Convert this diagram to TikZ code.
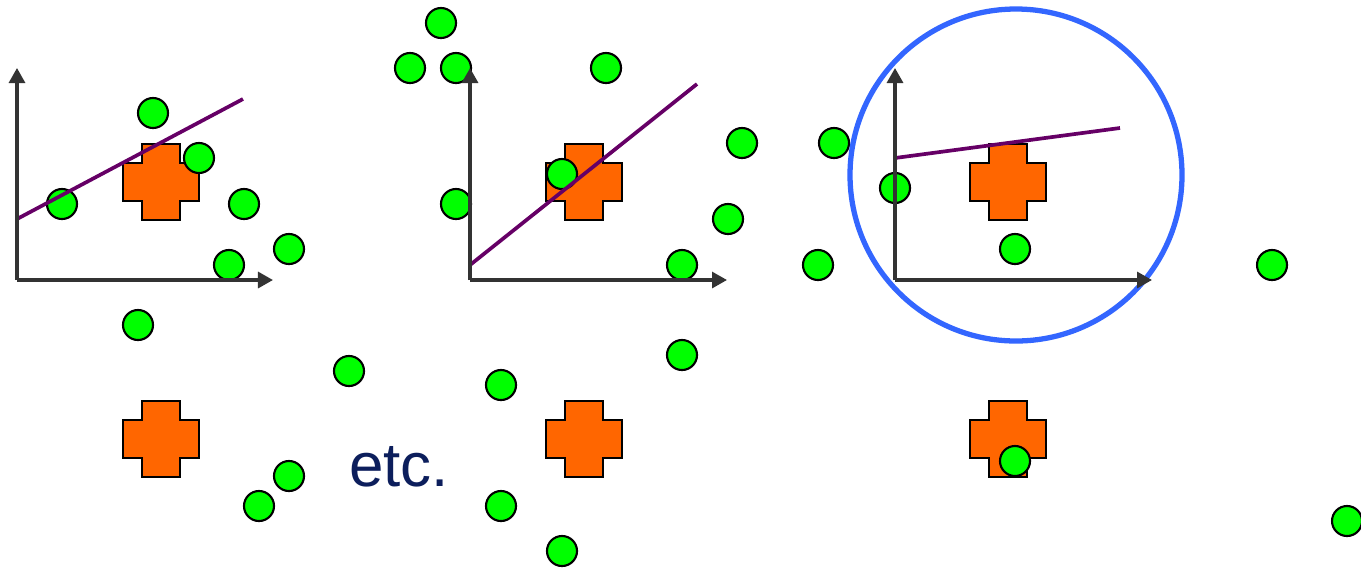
\documentclass[tikz,border=0pt]{standalone}
\usepackage{fontspec}
\setmainfont{Liberation Sans}
\usetikzlibrary{arrows.meta}
\definecolor{plusorange}{RGB}{255,102,0}
\definecolor{dotgreen}{RGB}{0,255,0}
\definecolor{fitpurple}{RGB}{102,0,102}
\definecolor{axisgray}{RGB}{51,51,51}
\definecolor{ringblue}{RGB}{51,102,255}
\definecolor{textnavy}{RGB}{12,30,92}
\tikzset{
  dot/.style={circle, draw=black, line width=0.6pt, fill=dotgreen, minimum size=0.3cm, inner sep=0pt},
  axis/.style={draw=axisgray, line width=0.9pt, -{Triangle[length=0.15cm, width=0.16cm]}},
  fit/.style={draw=fitpurple, line width=1.05pt},
  plusmark/.pic={
    \draw[fill=plusorange, line width=0.6pt]
      (-19,-38) -- (19,-38) -- (19,-19) -- (38,-19) -- (38,19) -- (19,19)
      -- (19,38) -- (-19,38) -- (-19,19) -- (-38,19) -- (-38,-19) -- (-19,-19) -- cycle;
  }
}
\begin{document}
\begin{tikzpicture}[x=0.01cm, y=-0.01cm]
\useasboundingbox (0,0) rectangle (1361,569);
% crosses
\path (161,182) pic {plusmark};
\path (584,182) pic {plusmark};
\path (1008,182) pic {plusmark};
\path (161,439) pic {plusmark};
\path (584,439) pic {plusmark};
\path (1008,439) pic {plusmark};
% green points
\foreach \px/\py [count=\i] in {153/113, 199/158, 62/204, 244/204, 289/249, 229/265,
    138/325, 349/371, 289/476, 259/506, 441/23, 410/68, 456/68, 606/68, 742/143,
    562/174, 456/204, 728/219, 682/265, 682/355, 501/385, 501/506, 562/551,
    834/143, 895/188, 818/265, 1015/249, 1272/265, 1015/461, 1347/521}
  \path (\px,\py) node[dot] (pt\i) {};
% fitted lines
\path (17,219) coordinate (fitAstart) (243,99) coordinate (fitAend);
\path (470,265) coordinate (fitBstart) (697,84) coordinate (fitBend);
\path (895,158) coordinate (fitCstart) (1120,128) coordinate (fitCend);
\draw[fit] (fitAstart) -- (fitAend);
\draw[fit] (fitBstart) -- (fitBend);
\draw[fit] (fitCstart) -- (fitCend);
% neighbourhood
\path (1016,175) coordinate (ringcentre);
\draw[ringblue, line width=1.5pt] (ringcentre) circle (166);
% axes
\path (17,280) coordinate (originA) (17,68) coordinate (ytipA) (273,280) coordinate (xtipA);
\path (470,280) coordinate (originB) (470,68) coordinate (ytipB) (727,280) coordinate (xtipB);
\path (895,280) coordinate (originC) (895,68) coordinate (ytipC) (1152,280) coordinate (xtipC);
\draw[axis] (originA) -- (ytipA);
\draw[axis] (originA) -- (xtipA);
\draw[axis] (originB) -- (ytipB);
\draw[axis] (originB) -- (xtipB);
\draw[axis] (originC) -- (ytipC);
\draw[axis] (originC) -- (xtipC);
\path (399,467) node[text=textnavy, font=\fontsize{17.6pt}{21pt}\selectfont] (etc) {etc.};
\end{tikzpicture}
\end{document}
